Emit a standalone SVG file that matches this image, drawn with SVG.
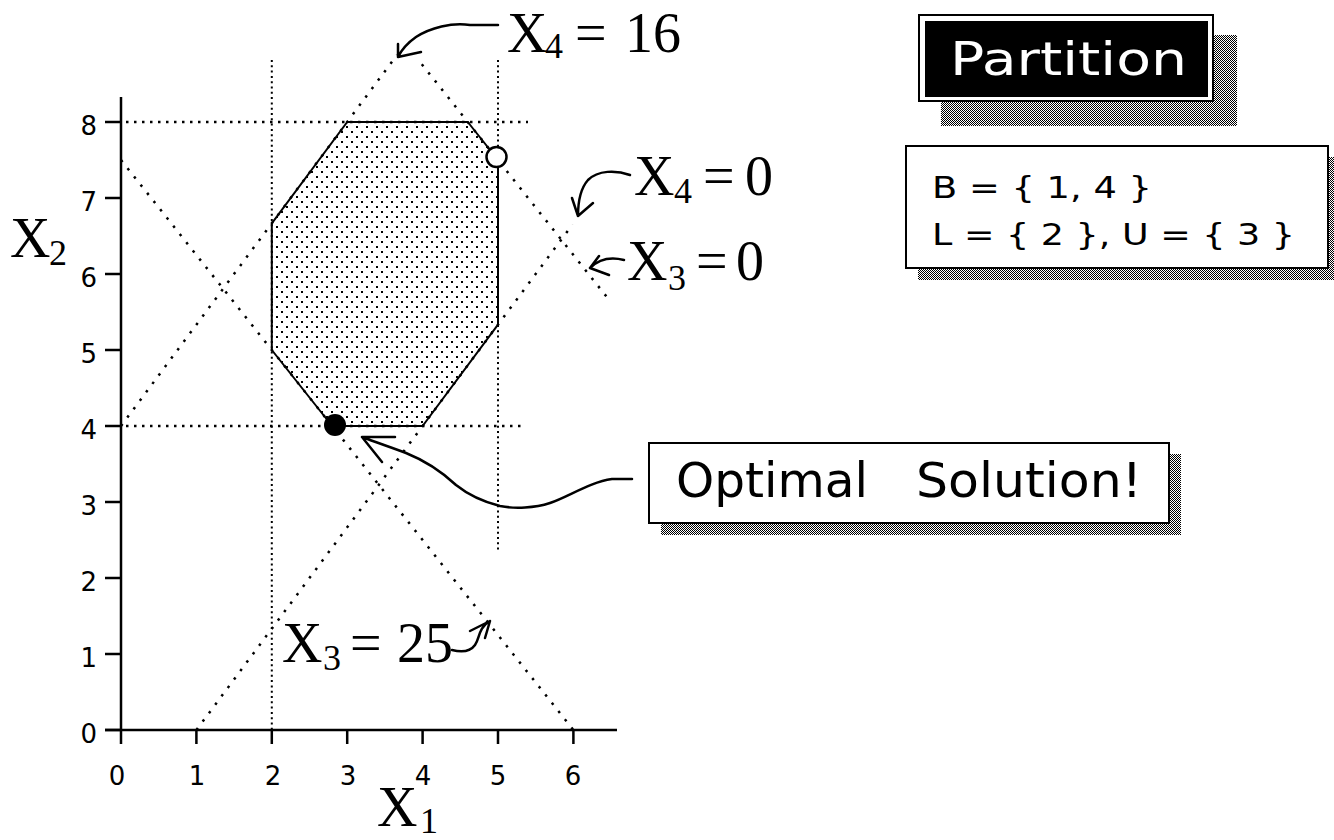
<svg xmlns="http://www.w3.org/2000/svg" width="1334" height="840" viewBox="0 0 1334 840">
<defs>
<pattern id="stipple" width="10" height="10" patternUnits="userSpaceOnUse">
<rect x="1" y="1" width="2" height="2" fill="#000"/>
<rect x="6" y="6" width="2" height="2" fill="#000"/>
</pattern>
<pattern id="checker" width="2" height="2" patternUnits="userSpaceOnUse">
<rect x="0" y="0" width="1" height="1" fill="#000"/>
<rect x="1" y="1" width="1" height="1" fill="#000"/>
</pattern>
<style>
.axis{stroke:#000;stroke-width:2.5;fill:none}
.tick{stroke:#000;stroke-width:2.5}
.gv{stroke:#000;stroke-width:2;stroke-dasharray:2 3.3;fill:none}
.gh{stroke:#000;stroke-width:2.5;stroke-dasharray:2.5 5.5;fill:none}
.diag{stroke:#000;stroke-width:2.5;stroke-dasharray:2.5 8;fill:none}
.tl{font-family:"DejaVu Sans","Liberation Sans",sans-serif;font-size:26px;fill:#000}
.math{font-family:"Liberation Serif","Times New Roman",serif;font-size:56px;fill:#000}
.sub{font-size:36px}
.conn{stroke:#000;stroke-width:2.5;fill:none;stroke-linecap:round;stroke-linejoin:round}
.box{fill:#fff;stroke:#000;stroke-width:2}
.shadow{fill:url(#checker)}
.ui{font-family:"DejaVu Sans","Liberation Sans",sans-serif;fill:#000}
</style>
</defs>
<rect width="1334" height="840" fill="#fff"/>

<g id="plot">
<polygon id="feasible" points="271.8,223.3 347.2,122 467.8,122 498,160 498,324.7 422.6,426 332.1,426 271.8,350" fill="url(#stipple)" stroke="#000" stroke-width="2" stroke-linejoin="round"/>
<line class="gv" x1="271.8" y1="60" x2="271.8" y2="730"/>
<line class="gv" x1="498" y1="60" x2="498" y2="553"/>
<line class="gh" x1="126" y1="122" x2="528" y2="122"/>
<line class="gh" x1="126" y1="426" x2="523" y2="426"/>
<line class="diag" x1="121" y1="426" x2="397" y2="55"/>
<line class="diag" x1="421.8" y1="64.2" x2="607.3" y2="297.6"/>
<line class="diag" x1="196.4" y1="730" x2="572.6" y2="224.4"/>
<line class="diag" x1="121" y1="160" x2="573.4" y2="730"/>
<path class="axis" d="M121,97 V730 M105,730 H617"/>
<path class="tick" d="M105,122 H121 M105,198 H121 M105,274 H121 M105,350 H121 M105,426 H121 M105,502 H121 M105,578 H121 M105,654 H121 M105,730 H121"/>
<path class="tick" d="M121,730 V744 M196.4,730 V744 M271.8,730 V744 M347.2,730 V744 M422.6,730 V744 M498,730 V744 M573.4,730 V744"/>
<g class="tl" text-anchor="end">
<text x="97" y="135">8</text>
<text x="97" y="211">7</text>
<text x="97" y="287">6</text>
<text x="97" y="363">5</text>
<text x="97" y="439">4</text>
<text x="97" y="515">3</text>
<text x="97" y="591">2</text>
<text x="97" y="667">1</text>
<text x="97" y="743">0</text>
</g>
<g class="tl" text-anchor="middle">
<text x="117" y="785">0</text>
<text x="197" y="785">1</text>
<text x="273" y="785">2</text>
<text x="348" y="785">3</text>
<text x="423" y="785">4</text>
<text x="498" y="785">5</text>
<text x="573" y="785">6</text>
</g>
<circle id="optimal-point" cx="335" cy="425" r="11" fill="#000"/>
<circle id="open-point" cx="496.5" cy="157" r="10" fill="#fff" stroke="#000" stroke-width="2.5"/>
</g>

<g id="axis-labels" class="math">
<text id="label-x2" x="10" y="257">X<tspan class="sub" x="49" y="265">2</tspan></text>
<text id="label-x1" x="377" y="826">X<tspan class="sub" x="420" y="833">1</tspan></text>
</g>

<g id="label-x4-16" class="math">
<text y="52"><tspan x="507">X</tspan><tspan class="sub" x="545" y="58">4</tspan><tspan x="575" y="52">=</tspan><tspan x="625">16</tspan></text>
</g>
<g id="label-x4-0" class="math">
<text y="195"><tspan x="634">X</tspan><tspan class="sub" x="674" y="203">4</tspan><tspan x="703" y="195">=</tspan><tspan x="745">0</tspan></text>
</g>
<g id="label-x3-0" class="math">
<text y="280"><tspan x="627">X</tspan><tspan class="sub" x="668" y="290">3</tspan><tspan x="696" y="280">=</tspan><tspan x="736">0</tspan></text>
</g>
<g id="label-x3-25" class="math">
<text y="662"><tspan x="282">X</tspan><tspan class="sub" x="323" y="670">3</tspan><tspan x="350" y="662">=</tspan><tspan x="397">25</tspan></text>
</g>

<g id="partition">
<rect class="shadow" x="941" y="35" width="296" height="91"/>
<rect class="box" x="919" y="15" width="294" height="86"/>
<rect x="925" y="21" width="283" height="76" fill="#000"/>
<text class="ui" x="950" y="75" font-size="47" style="fill:#fff" textLength="237" lengthAdjust="spacingAndGlyphs">Partition</text>
</g>

<g id="partition-sets">
<rect class="shadow" x="918" y="157" width="422" height="123"/>
<rect class="box" x="906" y="146" width="422" height="122"/>
<text class="ui" x="932" y="198" font-size="30" textLength="220" lengthAdjust="spacingAndGlyphs">B = { 1, 4 }</text>
<text class="ui" x="932" y="245" font-size="30" textLength="363" lengthAdjust="spacingAndGlyphs">L = { 2 }, U = { 3 }</text>
</g>

<g id="optimal-box">
<rect class="shadow" x="661" y="454" width="520" height="81"/>
<rect class="box" x="649" y="443" width="520" height="80"/>
<text class="ui" y="497" font-size="48"><tspan x="676" textLength="192" lengthAdjust="spacingAndGlyphs">Optimal</tspan> <tspan x="916" textLength="226" lengthAdjust="spacingAndGlyphs">Solution!</tspan></text>
</g>

<g id="connectors">
<path class="conn" d="M498,25 L470,25 C452,22 430,28 416,37 C406,44 401,51 398,57 M398,57 L398,44 M398,57 L421,52"/>
<path class="conn" d="M630,175 C616,170 598,170 588,180 C580,189 578,204 578,216 M578,216 L572,198 M578,216 L593,203"/>
<path class="conn" d="M624,260 C612,257 600,258 590,268 M590,268 L599,256 M590,268 L609,275"/>
<path class="conn" d="M452,650 C460,652 470,652 475,645 C480,638 478,628 490,621 M490,621 L470,631 M490,621 L485,638"/>
<path class="conn" d="M632,479 L612,479 C590,482 570,496 550,503 C535,508 515,509 500,506 C480,501 466,493 456,485 C441,471 426,461 406,453 C393,448 378,443 362,437 M362,437 L395,437 M362,437 L382,462"/>
</g>
</svg>
